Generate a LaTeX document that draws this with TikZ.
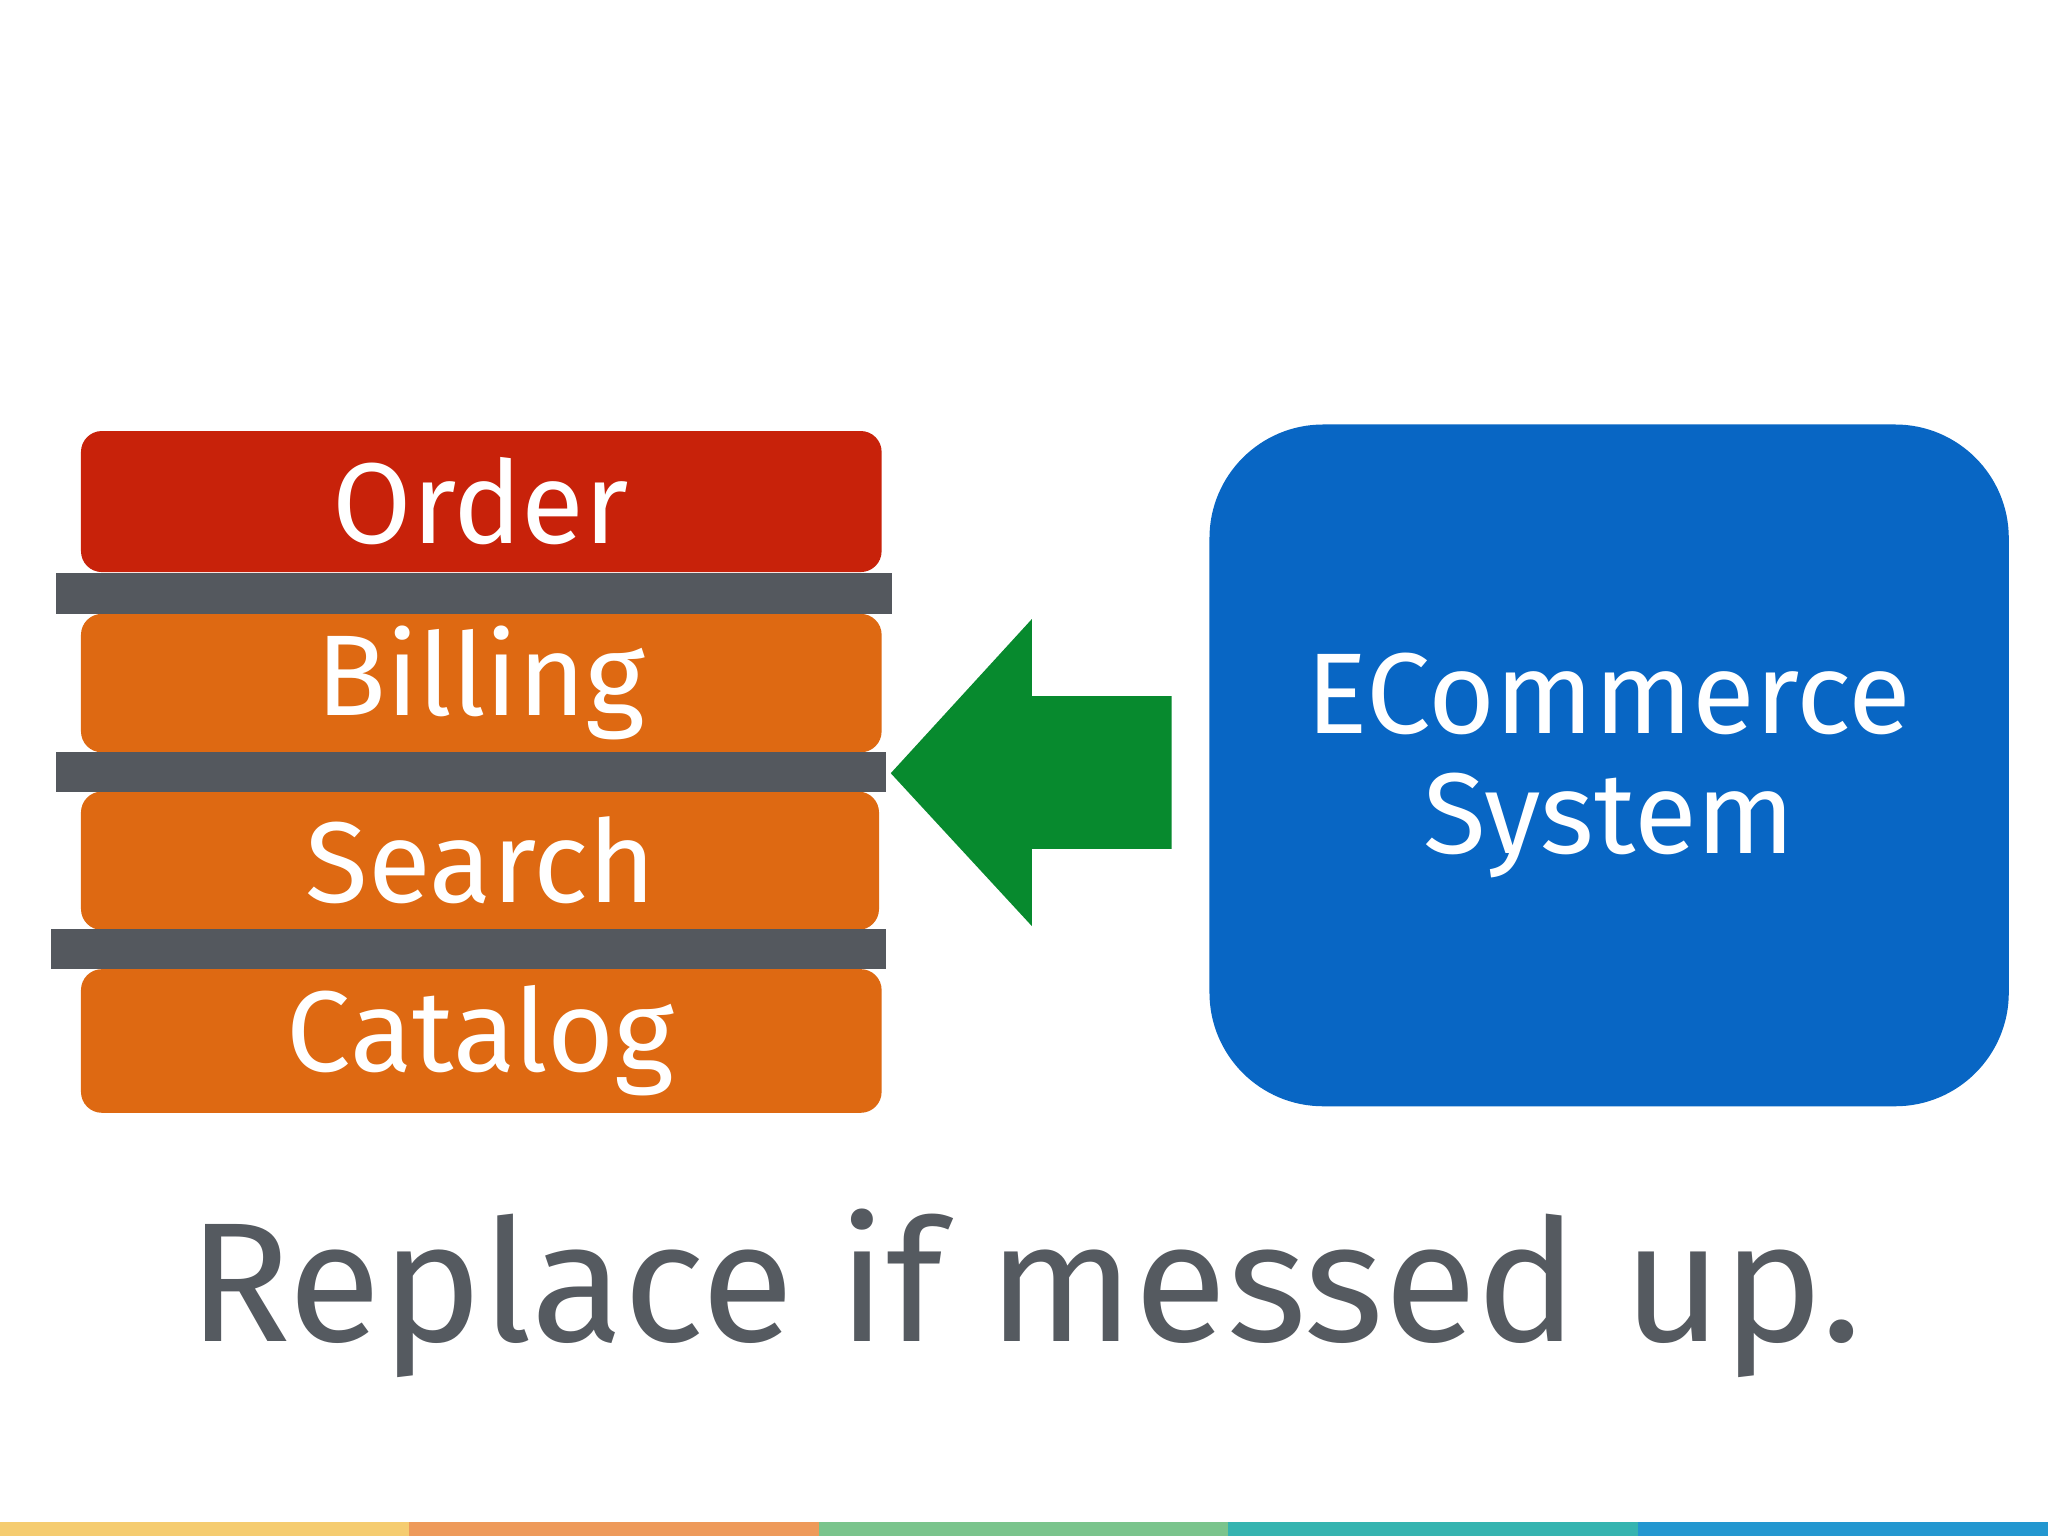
\documentclass[tikz,border=0pt]{standalone}
\usepackage{fontspec}
\setmainfont{Fira Sans}
\definecolor{ored}{HTML}{C8220A}
\definecolor{oorg}{HTML}{DE6912}
\definecolor{bar}{HTML}{54585E}
\definecolor{eblue}{HTML}{0866C4}
\definecolor{agreen}{HTML}{078A2E}
\definecolor{txt}{HTML}{555A60}
\definecolor{s1}{HTML}{F5CC70}
\definecolor{s2}{HTML}{EE9A5A}
\definecolor{s3}{HTML}{7AC48C}
\definecolor{s4}{HTML}{35B4B0}
\definecolor{s5}{HTML}{2397D0}
\begin{document}
\begin{tikzpicture}[x=0.01cm,y=-0.01cm,
  layer/.style={rounded corners=0.16cm},
  lbl/.style={text=white,font=\fontsize{25}{30}\selectfont}]
\useasboundingbox (0,0) rectangle (1568,1176);
\fill[white] (0,0) rectangle (1568,1176);
\fill[layer,ored] (62,330) rectangle (675,438);
\fill[layer,oorg] (62,470) rectangle (675,576);
\fill[layer,oorg] (62,606) rectangle (673,712);
\fill[layer,oorg] (62,742) rectangle (675,852);
\fill[bar] (43,439) rectangle (683,470);
\fill[bar] (43,576) rectangle (678,606);
\fill[bar] (39,711) rectangle (678,742);
\node[lbl] (order) at (368,384) {Order};
\node[lbl] (billing) at (368,523) {Billing};
\node[lbl] (search) at (368,659) {Search};
\node[lbl] (catalog) at (368,797) {Catalog};
\fill[eblue,rounded corners=0.87cm] (926,325) rectangle (1538,847);
\node[lbl,align=center] (ecom) at (1232,586) {ECommerce\\[-4pt]System};
\fill[agreen] (682,592) -- (790,474) -- (790,533) -- (897,533) -- (897,650) -- (790,650) -- (790,709) -- cycle;
\node[text=txt,font=\fontsize{37}{44}\selectfont] (cap) at (785,990) {Replace if messed up.};
\fill[s1] (0,1165) rectangle (313,1176);
\fill[s2] (313,1165) rectangle (627,1176);
\fill[s3] (627,1165) rectangle (940,1176);
\fill[s4] (940,1165) rectangle (1254,1176);
\fill[s5] (1254,1165) rectangle (1568,1176);
\end{tikzpicture}
\end{document}
